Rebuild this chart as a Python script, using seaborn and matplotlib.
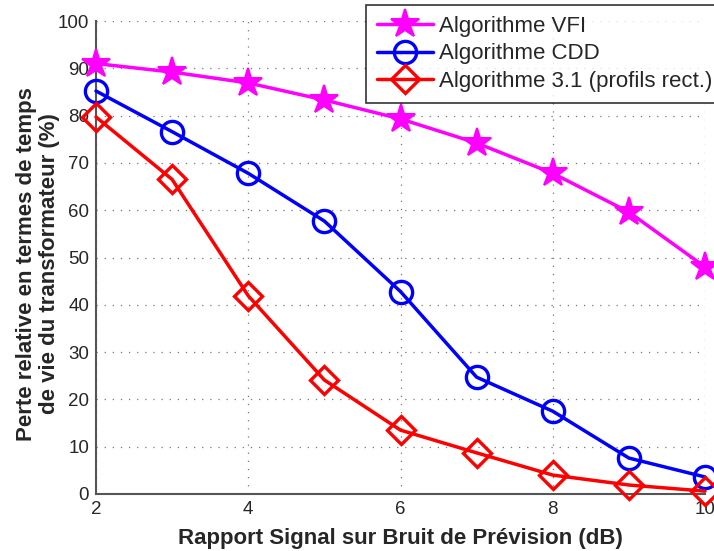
import matplotlib
matplotlib.use("Agg")
import matplotlib.pyplot as plt
import seaborn as sns
import pandas as pd

snr_db = [2, 3, 4, 5, 6, 7, 8, 9, 10]
loss_vfi = [91.0, 89.2, 86.9, 83.3, 79.3, 74.2, 67.8, 59.6, 48.0]
loss_cdd = [85.2, 76.6, 67.8, 57.7, 42.8, 24.7, 17.5, 7.6, 3.6]
loss_rect = [79.7, 66.5, 41.9, 24.1, 13.5, 8.7, 4.0, 1.9, 0.6]
series_names = ["Algorithme VFI", "Algorithme CDD", "Algorithme 3.1 (profils rect.)"]

x_ticks = [2, 4, 6, 8, 10]
y_ticks = list(range(0, 101, 10))

sns.set_style("white")
plt.rcParams["font.family"] = ["Liberation Sans", "DejaVu Sans"]

fig = plt.figure(figsize=(7.14, 5.51), dpi=100)
ax = fig.add_axes([96 / 714, 57 / 551, 609 / 714, 473 / 551])

styles = [
    dict(color="#ff00ff", marker="*", markersize=21, markerfacecolor="#ff00ff",
         markeredgecolor="#ff00ff", markeredgewidth=1.5),
    dict(color="#0000ff", marker="o", markersize=16, markerfacecolor="none",
         markeredgecolor="#0000ff", markeredgewidth=2.4),
    dict(color="#ff0000", marker="D", markersize=14, markerfacecolor="none",
         markeredgecolor="#ff0000", markeredgewidth=2.4),
]

for name, vals, st in zip(series_names, [loss_vfi, loss_cdd, loss_rect], styles):
    df = pd.DataFrame({"snr": snr_db, "loss": vals})
    sns.lineplot(data=df, x="snr", y="loss", ax=ax, label=name, linewidth=2.5,
                 clip_on=False, zorder=3, **st)

ax.set_xlim(2, 10)
ax.set_ylim(0, 100)
ax.set_xticks(x_ticks)
ax.set_yticks(y_ticks)
ax.tick_params(axis="both", labelsize=13.5, direction="in", length=4, color="#555555",
               pad=5)
ax.grid(True, linestyle=(0, (1, 5.5)), color="#777777", linewidth=0.9)

for side in ["top", "right"]:
    ax.spines[side].set_visible(False)
for side in ["left", "bottom"]:
    ax.spines[side].set_color("#555555")
    ax.spines[side].set_linewidth(1.5)

ax.set_xlabel("Rapport Signal sur Bruit de Prévision (dB)", fontsize=16,
              fontweight="bold")
ax.xaxis.set_label_coords(0.5, -0.071)
ax.set_ylabel("Perte relative en termes de temps\nde vie du transformateur (%)",
              fontsize=16, fontweight="bold", linespacing=1.1)
ax.yaxis.set_label_coords(-0.059, 0.487)

leg = ax.legend(loc="upper left", bbox_to_anchor=(366 / 714, 1 - 5 / 551),
                bbox_transform=fig.transFigure, fontsize=16, frameon=True,
                fancybox=False, edgecolor="black", borderpad=0.5,
                handlelength=2.5, labelspacing=0.28, borderaxespad=0,
                handletextpad=0.3)
leg.get_frame().set_linewidth(1.2)
leg.set_zorder(5)

fig.savefig("out.png", dpi=100)
